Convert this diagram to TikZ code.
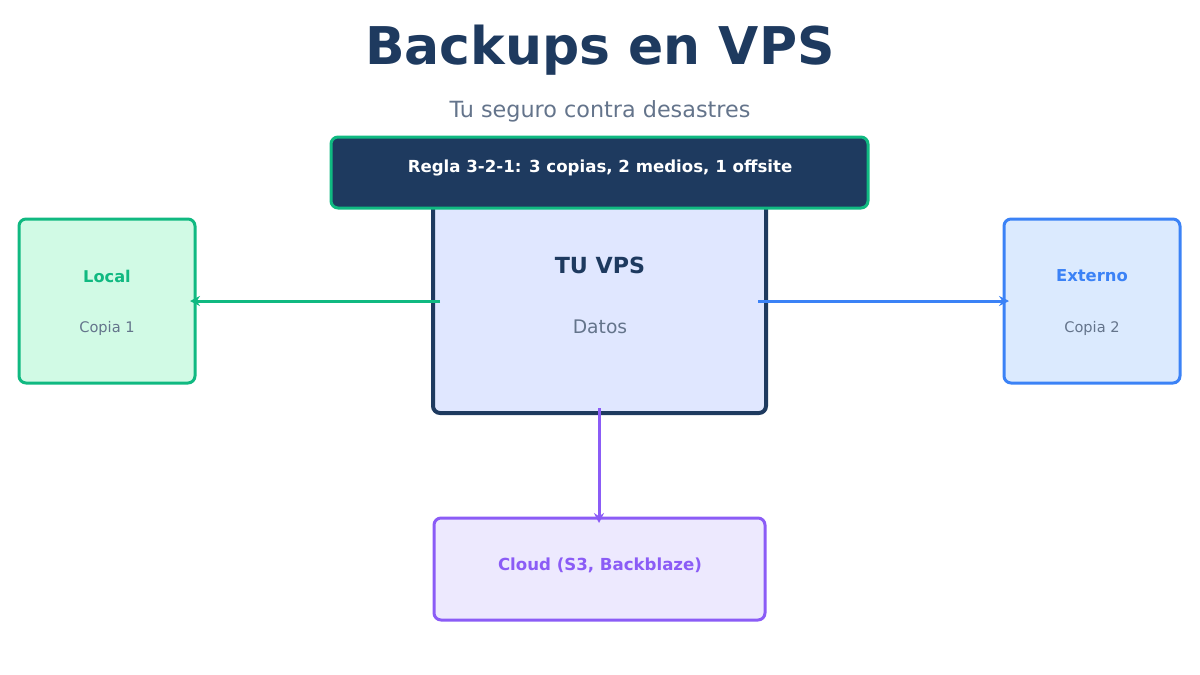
\documentclass[tikz,border=0pt]{standalone}
\usepackage{fontspec}
\setmainfont{DejaVu Sans}
\usetikzlibrary{arrows.meta}
\definecolor{navy}{HTML}{1E3A5F}
\definecolor{slate}{HTML}{64748B}
\definecolor{grn}{HTML}{10B981}
\definecolor{grnfill}{HTML}{D1FAE5}
\definecolor{blu}{HTML}{3B82F6}
\definecolor{blufill}{HTML}{DBEAFE}
\definecolor{pur}{HTML}{8B5CF6}
\definecolor{purfill}{HTML}{EDE9FE}
\definecolor{vpsfill}{HTML}{E0E7FF}
\tikzset{
  box/.style={rounded corners=7pt, line width=3pt},
  conn/.style={line width=3pt, -{Stealth[length=10pt,width=10pt]}},
  lbl/.style={inner sep=0pt, anchor=center},
}
\begin{document}
\begin{tikzpicture}[x=1pt,y=-1pt]
\useasboundingbox (0,0) rectangle (1200,675);
% title
\node[lbl, text=navy, font=\bfseries\fontsize{52}{60}\selectfont] (title) at (600,50) {Backups en VPS};
\node[lbl, text=slate, font=\fontsize{22.3}{26}\selectfont] (sub) at (600,111) {Tu seguro contra desastres};
% VPS box
\draw[box, line width=4pt, draw=navy, fill=vpsfill] (433,196) rectangle (766,413);
\node[lbl, text=navy, font=\bfseries\fontsize{22.2}{26}\selectfont] (vps) at (600,265) {TU VPS};
\node[lbl, text=slate, font=\fontsize{18.7}{22}\selectfont] (datos) at (600,327) {Datos};
\coordinate (vpsL) at (440,301);
\coordinate (vpsR) at (758,301);
\coordinate (vpsB) at (599,408);
% rule box
\draw[box, draw=grn, fill=navy] (331,137) rectangle (868,208);
\node[lbl, text=white, font=\bfseries\fontsize{16.6}{20}\selectfont] (rule) at (600,168) {Regla 3-2-1: 3 copias, 2 medios, 1 offsite};
% local
\draw[box, draw=grn, fill=grnfill] (19,219) rectangle (195,383);
\node[lbl, text=grn, font=\bfseries\fontsize{16.2}{19}\selectfont] (local) at (107,276) {Local};
\node[lbl, text=slate, font=\fontsize{14.6}{17}\selectfont] (c1) at (107,328) {Copia 1};
\coordinate (localR) at (190,301);
% externo
\draw[box, draw=blu, fill=blufill] (1004,219) rectangle (1180,383);
\node[lbl, text=blu, font=\bfseries\fontsize{16.4}{19}\selectfont] (ext) at (1092,276) {Externo};
\node[lbl, text=slate, font=\fontsize{14.6}{17}\selectfont] (c2) at (1092,328) {Copia 2};
\coordinate (extL) at (1009,301);
% cloud
\draw[box, draw=pur, fill=purfill] (434,518) rectangle (765,620);
\node[lbl, text=pur, font=\bfseries\fontsize{16.6}{20}\selectfont] (cloud) at (600,565) {Cloud (S3, Backblaze)};
\coordinate (cloudT) at (599,523);
% connectors
\draw[conn, draw=grn] (vpsL) -- (localR);
\draw[conn, draw=blu] (vpsR) -- (extL);
\draw[conn, draw=pur] (vpsB) -- (cloudT);
\end{tikzpicture}
\end{document}
